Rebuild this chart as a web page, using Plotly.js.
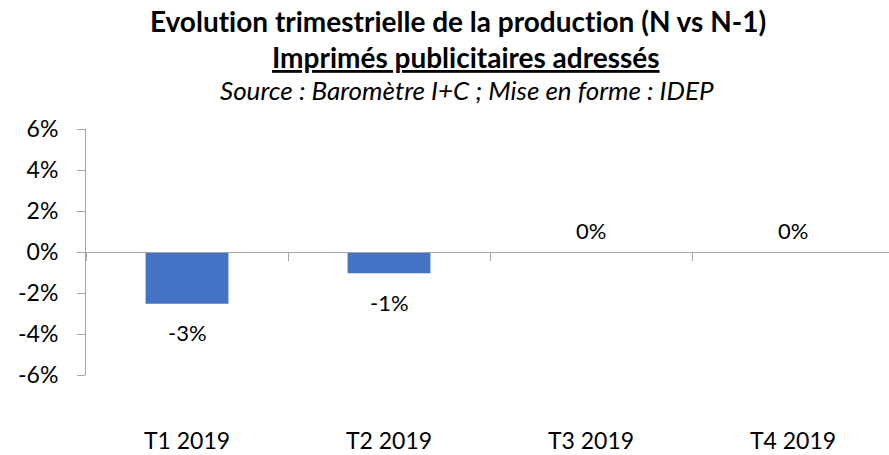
<!DOCTYPE html>
<html>
<head>
<meta charset="utf-8">
<script src="https://cdn.plot.ly/plotly-3.0.1.min.js"></script>
<style>
html,body{margin:0;padding:0;background:#fff;}
#chart{width:889px;height:455px;}
#chart text{font-variant-ligatures:none;font-feature-settings:"liga" 0,"clig" 0;}
</style>
</head>
<body>
<div id="chart"></div>
<script>
const categories = ["T1 2019", "T2 2019", "T3 2019", "T4 2019"];
const values = [-0.0252, -0.0104, 0, 0];
const yTickVals = [-0.06, -0.04, -0.02, 0, 0.02, 0.04, 0.06];
const titleMain = "Evolution trimestrielle de la production (N vs N-1)";
const titleSub = "Imprimés publicitaires adressés";
const titleSource = "Source : Baromètre I+C ; Mise en forme : IDEP";

const yMin = -0.06, yMax = 0.06;
const axisGray = "#A6A6A6";
const fontFam = "Lato, 'Open Sans', sans-serif";
const zeroPos = (0 - yMin) / (yMax - yMin);
const pct = v => { const r = Math.round(v * 100); return (r === 0 ? 0 : r) + "%"; };

const traces = [
  {
    type: "bar",
    x: categories,
    y: values,
    xaxis: "x",
    yaxis: "y",
    width: 0.41,
    marker: {color: "#4472C4"},
    hoverinfo: "x+y",
    showlegend: false
  },
  {
    type: "scatter",
    mode: "none",
    x: categories,
    y: values,
    xaxis: "x2",
    yaxis: "y",
    hoverinfo: "skip",
    showlegend: false
  }
];

const annotations = values.map((v, i) => ({
  x: categories[i], y: v, xref: "x", yref: "y",
  text: pct(v),
  showarrow: false,
  yanchor: "middle",
  yshift: v < 0 ? -29 : 22,
  font: {family: fontFam, size: 22, color: "#000"}
}));

const plotH = 455 - 80 - 129, plotW = 889 - 86;
annotations.push({
  xref: "paper", yref: "paper", x: (466 - 86) / plotW, y: (455 - 80 - 57) / plotH,
  xanchor: "center", yanchor: "middle",
  text: "<b><span style='text-decoration:underline'>" + titleSub + "</span></b>",
  showarrow: false, font: {family: fontFam, size: 28, color: "#000"}
});
annotations.push({
  xref: "paper", yref: "paper", x: (467 - 86) / plotW, y: (455 - 80 - 90) / plotH,
  xanchor: "center", yanchor: "middle",
  text: "<i>" + titleSource + "</i>", showarrow: false,
  font: {family: fontFam, size: 26, color: "#000"}
});

const layout = {
  width: 889, height: 455,
  margin: {l: 86, r: 0, t: 129, b: 80},
  paper_bgcolor: "#fff", plot_bgcolor: "#fff",
  title: {
    text: "<b>" + titleMain + "</b>",
    x: 458 / 889, xanchor: "center", y: 1 - 22 / 455, yanchor: "middle",
    font: {family: fontFam, size: 28, color: "#000"}
  },
  font: {family: fontFam, size: 23, color: "#000"},
  xaxis: {
    type: "category", anchor: "free", position: zeroPos,
    range: [-0.5, 3.475],
    showline: true, linecolor: axisGray, linewidth: 1,
    ticks: "outside", tickson: "boundaries", ticklen: 8, tickcolor: axisGray,
    showticklabels: false, showgrid: false, zeroline: false, fixedrange: true
  },
  xaxis2: {
    type: "category", overlaying: "x", anchor: "y", side: "bottom",
    range: [-0.5, 3.475],
    showline: false, ticks: "", showgrid: false, zeroline: false,
    ticklabelstandoff: 50,
    tickfont: {family: fontFam, size: 23, color: "#000"}
  },
  yaxis: {
    range: [yMin, yMax], tickmode: "array", tickvals: yTickVals, ticktext: yTickVals.map(pct),
    showline: true, linecolor: axisGray, linewidth: 1,
    ticks: "outside", ticklen: 8, tickcolor: axisGray,
    showgrid: false, zeroline: false,
    ticklabelstandoff: 14,
    tickfont: {family: fontFam, size: 23, color: "#000"}
  },
  annotations: annotations,
  showlegend: false
};

Plotly.newPlot("chart", traces, layout, {displayModeBar: false, staticPlot: true});
</script>
</body>
</html>
